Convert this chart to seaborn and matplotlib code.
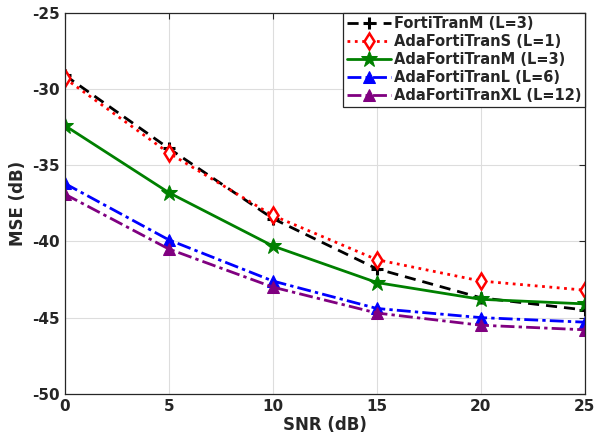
import pandas as pd
import seaborn as sns
from matplotlib import pyplot as plt

# SNR points and MSE curves
snr = [0, 5, 10, 15, 20, 25]
forti_m = [-29.1, -33.9, -38.5, -41.8, -43.7, -44.5]
ada_s = [-29.3, -34.2, -38.3, -41.2, -42.6, -43.2]
ada_m = [-32.4, -36.8, -40.3, -42.7, -43.8, -44.1]
ada_l = [-36.2, -39.9, -42.6, -44.4, -45.0, -45.3]
ada_xl = [-36.9, -40.5, -43.0, -44.7, -45.5, -45.8]

labels = ['FortiTranM (L=3)', 'AdaFortiTranS (L=1)', 'AdaFortiTranM (L=3)',
          'AdaFortiTranL (L=6)', 'AdaFortiTranXL (L=12)']
series = [forti_m, ada_s, ada_m, ada_l, ada_xl]

sns.set_style('white')
plt.rcParams['font.family'] = ['DejaVu Sans']
plt.rcParams['font.weight'] = 'bold'
plt.rcParams['axes.unicode_minus'] = False

styles = [
    dict(color='black', ls=(0, (4, 2.5)), marker='+', ms=8, mew=2.2),
    dict(color='red', ls=':', marker='d', ms=8, mfc='white', mew=1.8),
    dict(color='green', ls='-', marker='*', ms=12),
    dict(color='blue', ls=(0, (5, 1.5, 1.2, 1.5)), marker='^', ms=9),
    dict(color='purple', ls=(0, (5, 1.5, 1.2, 1.5)), marker='^', ms=9),
]

f, ax = plt.subplots(figsize=(5.95, 4.41), dpi=100)
f.subplots_adjust(left=0.109, right=0.983, top=0.971, bottom=0.107)

for vals, lab, st in zip(series, labels, styles):
    df = pd.DataFrame({'snr': snr, 'mse': vals})
    sns.lineplot(data=df, x='snr', y='mse', ax=ax, label=lab, lw=2.0,
                 markeredgecolor=st['color'], **st)

ax.set_xlim(0, 25)
ax.set_ylim(-50, -25)
ax.set_xticks(snr)
ax.set_yticks([-50, -45, -40, -35, -30, -25])
ax.grid(True, color='#dddddd', lw=0.8)
ax.tick_params(direction='in', length=4, labelsize=11, colors='#262626',
               labelcolor='#262626', top=True, right=True)
for lbl in ax.get_xticklabels() + ax.get_yticklabels():
    lbl.set_fontweight('bold')
for sp in ax.spines.values():
    sp.set_color('#262626')
    sp.set_linewidth(0.9)
ax.set_xlabel('SNR (dB)', fontsize=12, fontweight='bold', color='#262626', labelpad=2)
ax.set_ylabel('MSE (dB)', fontsize=12, fontweight='bold', color='#262626', labelpad=4)

leg = ax.legend(loc='upper right', fontsize=10.5, handlelength=3.0, handletextpad=0.2,
                borderpad=0.25, labelspacing=0.2, borderaxespad=0, fancybox=False,
                framealpha=1)
leg.get_frame().set_edgecolor('#262626')
leg.get_frame().set_linewidth(0.9)
for t in leg.get_texts():
    t.set_fontweight('bold')

plt.savefig('out.png', dpi=100)
